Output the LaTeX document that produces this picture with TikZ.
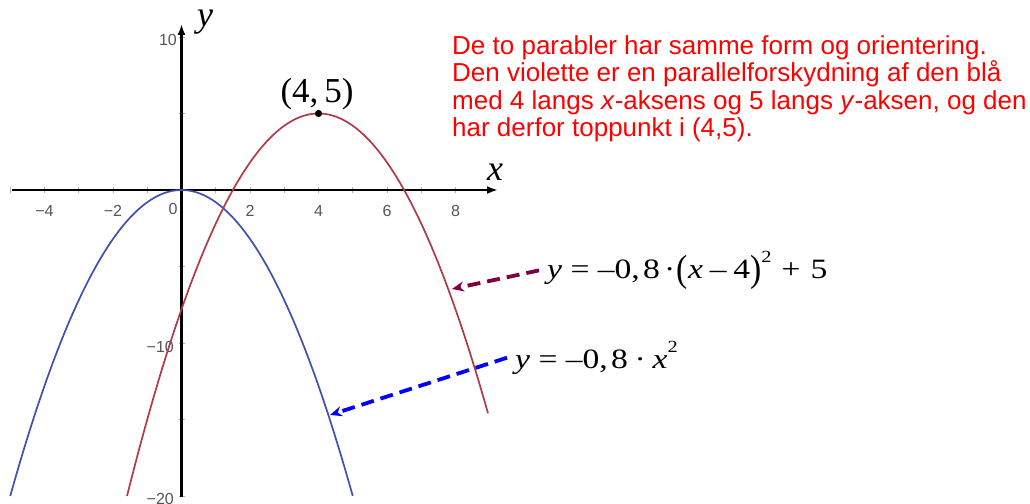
\documentclass[tikz,border=0pt]{standalone}
\usepackage{fontspec}
\setmainfont{Liberation Serif}
\newfontfamily\arialf{Liberation Sans}
\usepackage{graphicx}
\usetikzlibrary{arrows.meta}
\definecolor{curveblue}{RGB}{64,80,176}
\definecolor{curvered}{RGB}{176,58,72}
\definecolor{arrowred}{RGB}{128,0,64}
\definecolor{ticklab}{RGB}{85,85,85}
\newcommand{\bigpar}[1]{\raisebox{-0.12em}{\scalebox{1}[1.35]{#1}}}
\newcommand{\supii}{\raisebox{0.55em}{\fontsize{17}{17}\selectfont 2}}
\newcommand{\wide}[1]{\scalebox{1.2}[1]{#1}}
\tikzset{
  axisline/.style={line width=2.6pt, -{Latex[length=11pt,width=8pt]}},
  tickmark/.style={line width=0.6pt, gray!60},
  ticklabel/.style={font=\arialf\fontsize{16}{16}\selectfont, text=ticklab, inner sep=0pt},
  axislabel/.style={font=\fontsize{36}{36}\selectfont\itshape, inner sep=0pt},
  eqlabel/.style={font=\fontsize{28}{28}\selectfont, inner ysep=0pt, inner xsep=8pt, anchor=base west},
  pointer/.style={line width=3.8pt, dash pattern=on 13pt off 7pt, -{Stealth[length=12pt,width=10pt]}},
  note/.style={font=\arialf\fontsize{26}{27.5}\selectfont, text=red, align=left, anchor=north west, inner sep=0pt}
}
\begin{document}
\begin{tikzpicture}[x=1pt,y=-1pt]
\useasboundingbox (0,0) rectangle (1030,503);
\clip (0,0) rectangle (1030,503);
\fill[white] (0,0) rectangle (1030,503);
% ticks
\foreach \i in {-5,...,9} {\draw[tickmark] ({181.5+34.25*\i},187) -- ({181.5+34.25*\i},193);}
\foreach \j in {-20,-15,-10,-5,5,10} {\draw[tickmark] (178.5,{190-15.3*\j}) -- (184.5,{190-15.3*\j});}
% tick labels
\foreach \i/\t in {-4/{−4},-2/{−2},2/2,4/4,6/6,8/8} {\node[ticklabel] (xt\i) at ({181.5+34.25*\i},211) {\t};}
\node[ticklabel] (xt0) at (173,209) {0};
\node[ticklabel, anchor=east] (yt10) at (177,40) {10};
\node[ticklabel, anchor=east] (ytm10) at (174,347) {−10};
\node[ticklabel, anchor=east] (ytm20) at (174,499) {−20};
% axes
\draw[axisline] (12,190) -- (498,190);
\draw[axisline] (181.5,497) -- (181.5,24);
\node[axislabel] (xl) at (495,172) {x};
\node[axislabel] (yl) at (205,22) {y};
% curves
\begin{scope}[shift={(181.5,190)}, x=34.25pt, y=15.3pt]
  \draw[curveblue, line width=1.7pt] plot[domain=-5:5, samples=120, smooth] (\x, {-0.8*\x*\x});
  \draw[curvered, line width=1.7pt] plot[domain=-1.59:8.95, samples=120, smooth] (\x, {-0.8*(\x-4)*(\x-4)+5});
  \fill (4,5) circle (3.6pt);
  \coordinate (top) at (4,5);
\end{scope}
\node[font=\fontsize{35}{35}\selectfont, inner sep=0pt] (toplbl) at (317,94) {(4,\,5)};
% equations
\node[eqlabel] (eqA) at (539,278) {\wide{\textit{y}\hspace{0.25em}=\hspace{0.25em}–0,\hspace{0.1em}8\hspace{0.12em}·\hspace{0.05em}\bigpar{(}\textit{x}\hspace{0.2em}–\hspace{0.2em}4\bigpar{)}\supii\hspace{0.3em}+\hspace{0.3em}5}};
\node[eqlabel] (eqB) at (507,368) {\wide{\textit{y}\hspace{0.25em}=\hspace{0.25em}–0,\hspace{0.1em}8\hspace{0.2em}·\hspace{0.2em}\textit{x}\supii}};
\coordinate (pA) at (452,289);
\coordinate (pB) at (330,415);
\draw[pointer, arrowred] (eqA.west) -- (pA);
\draw[pointer, blue] (eqB.west) -- (pB);
% note
\node[note] (txt) at (452,35) {De to parabler har samme form og orientering.\\
Den violette er en parallelforskydning af den blå\\
med 4 langs \textit{x}-aksens og 5 langs \textit{y}-aksen, og den\\
har derfor toppunkt i (4,5).};
\end{tikzpicture}
\end{document}
